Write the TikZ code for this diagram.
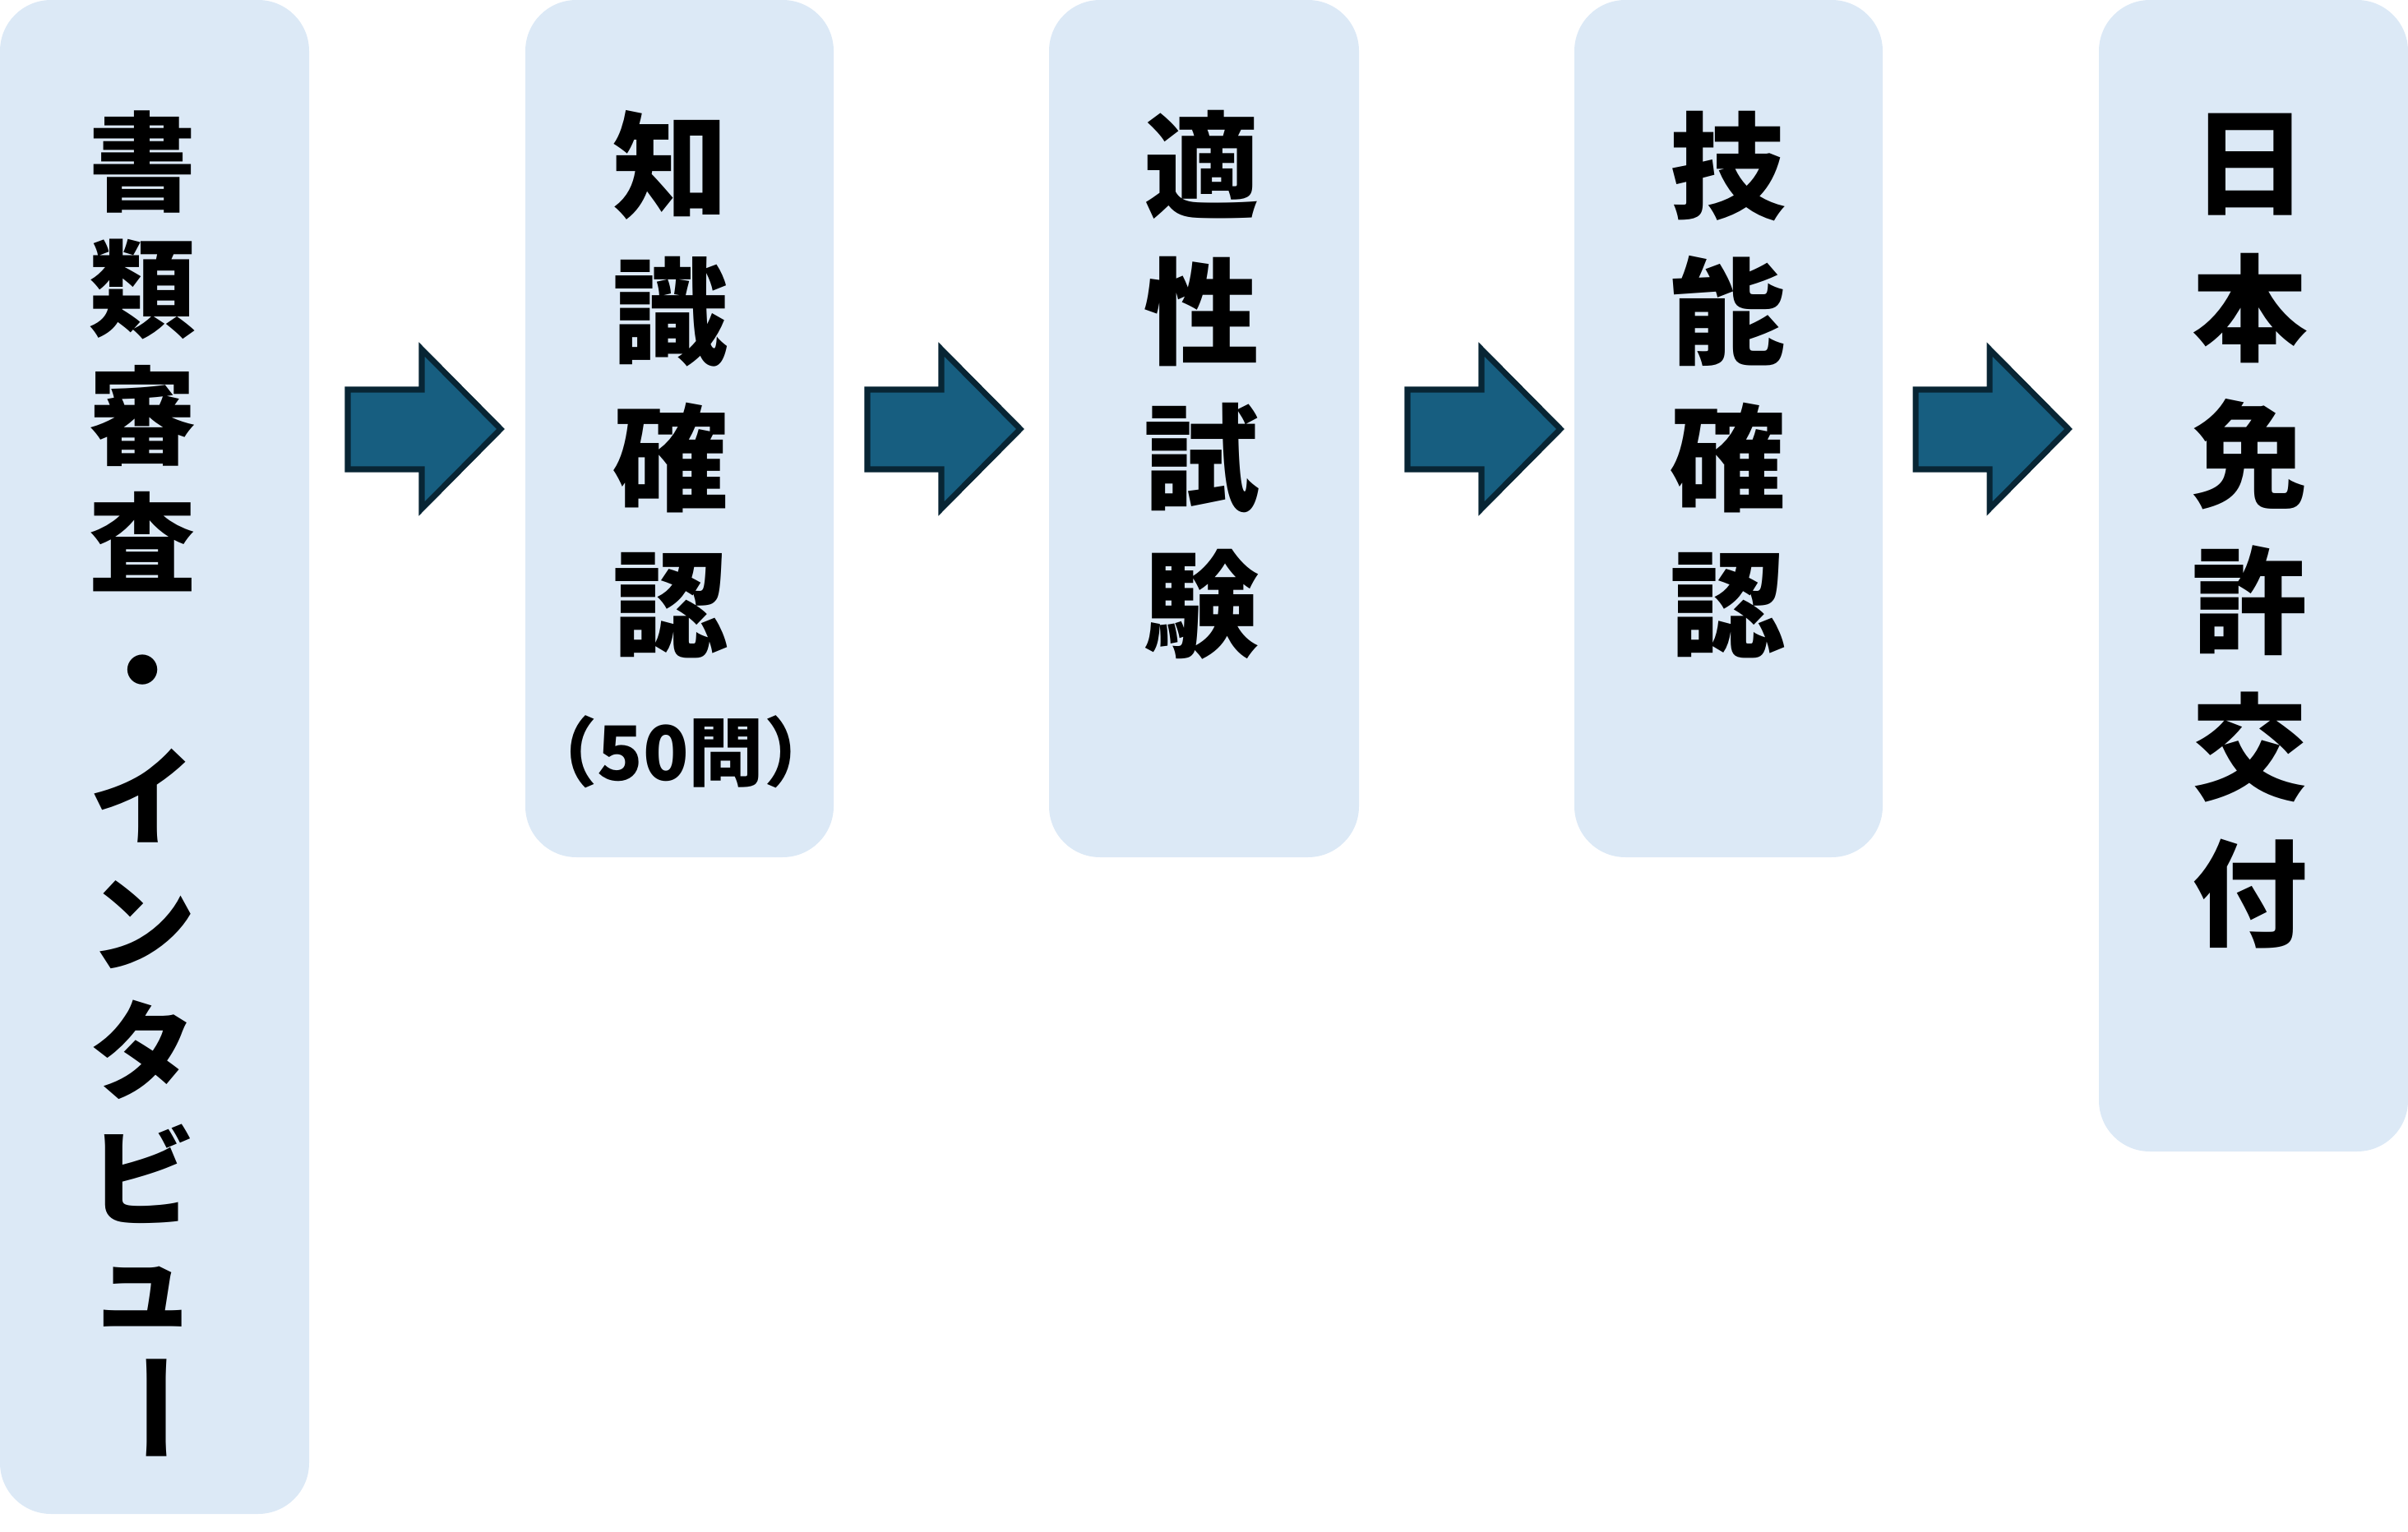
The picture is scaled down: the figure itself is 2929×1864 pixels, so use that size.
\documentclass[tikz,border=0pt]{standalone}
\usepackage{fontspec}
\usepackage{graphicx}
\newfontfamily\jp{Noto Sans CJK JP}
\definecolor{boxfill}{RGB}{220,233,246}
\definecolor{arrfill}{RGB}{23,94,128}
\definecolor{arrline}{RGB}{8,37,52}
\tikzset{
  stagebox/.style={fill=boxfill, draw=none, rounded corners=0.62cm},
  bigtxt/.style={align=center, inner sep=0pt, font=\jp\bfseries\fontsize{40}{50.6}\selectfont},
  firsttxt/.style={align=center, inner sep=0pt, font=\jp\bfseries\fontsize{37}{43.9}\selectfont},
  smalltxt/.style={inner sep=0pt, font=\jp\bfseries\fontsize{26}{30}\selectfont},
  blockarrow/.style={fill=arrfill, draw=arrline, line width=2pt, line join=miter},
  pics/flowarrow/.style={code={
    \draw[blockarrow] (3,474) -- (93,474) -- (93,425) -- (189,522) -- (93,619) -- (93,571) -- (3,571) -- cycle;
  }}
}
\begin{document}
\begin{tikzpicture}[x=0.01cm, y=-0.01cm]
\useasboundingbox (0,0) rectangle (2929,1864);
% boxes
\path[stagebox] (0,0) rectangle (376,1842);
\path[stagebox] (639,0) rectangle (1014,1043);
\path[stagebox] (1276,0) rectangle (1653,1043);
\path[stagebox] (1915,0) rectangle (2290,1043);
\path[stagebox] (2553,0) rectangle (2929,1401);
% arrows
\pic (a1) at (420,0) {flowarrow};
\pic (a2) at (1052,0) {flowarrow};
\pic (a3) at (1709,0) {flowarrow};
\pic (a4) at (2327,0) {flowarrow};
% texts
\node[firsttxt, anchor=north] (t1) at (174,134) {書\\類\\審\\査\\・\\イ\\ン\\タ\\ビ};
\node[firsttxt] (t1c) at (174,1578) {ュ};
\node[firsttxt] (t1b) at (172,1713) {\rotatebox[origin=c]{-90}{\scalebox{1.1}[1]{ー}}};
\node[bigtxt] (t2) at (816,468) {知\\識\\確\\認};
\node[smalltxt] (t2b) at (828,915) {（50問）};
\node[bigtxt] (t3) at (1462,468) {適\\性\\試\\験};
\node[bigtxt] (t4) at (2102,468) {技\\能\\確\\認};
\node[bigtxt] (t5) at (2737,646) {日\\本\\免\\許\\交\\付};
\end{tikzpicture}
\end{document}
